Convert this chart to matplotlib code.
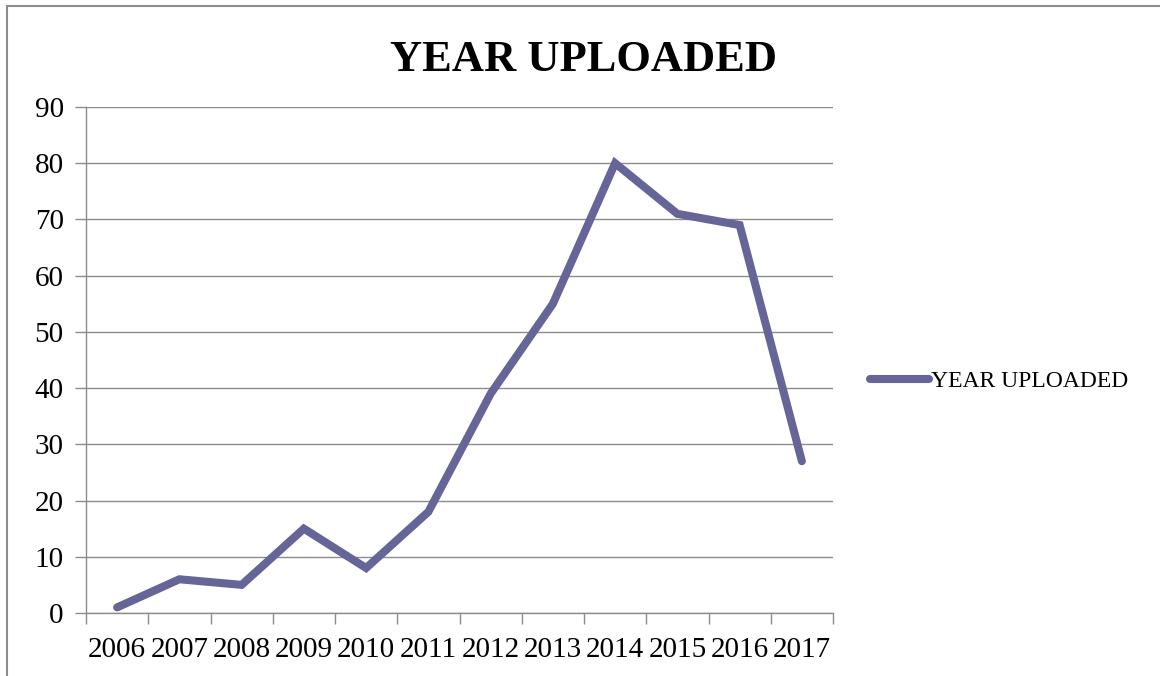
import numpy as np
import matplotlib
matplotlib.use('Agg')
import matplotlib.pyplot as plt
from matplotlib.patches import Rectangle

years = ['2006', '2007', '2008', '2009', '2010', '2011',
         '2012', '2013', '2014', '2015', '2016', '2017']
uploads = [1, 6, 5, 15, 8, 18, 39, 55, 80, 71, 69, 27]
series_name = 'YEAR UPLOADED'

plt.rcParams['font.family'] = ['Liberation Serif', 'DejaVu Serif']

W, H = 1160, 676
fig = plt.figure(figsize=(W / 100, H / 100), dpi=100)

# outer chart border (clipped at right/bottom like the reference)
fig.patches.append(Rectangle((7 / W, -0.1), 1.2, 1 - 6 / H + 0.1,
                             transform=fig.transFigure, fill=False,
                             edgecolor='#8c8c8c', lw=1.5))

ax = fig.add_axes([86 / W, 1 - 613 / H, (833 - 86) / W, (613 - 107) / H])
x = np.arange(len(years))
line, = ax.plot(x, uploads, color='#656598', lw=5.8, solid_capstyle='round',
                solid_joinstyle='miter', label=series_name, zorder=3)

ax.set_xlim(-0.5, len(years) - 0.5)
ax.set_ylim(0, 90)
ax.set_yticks(np.arange(0, 91, 10))
ax.set_xticks(x)
ax.set_xticklabels(years)
ax.set_xticks(np.arange(-0.5, len(years), 1), minor=True)
ax.tick_params(axis='x', which='major', length=0, pad=17, labelsize=21)
ax.tick_params(axis='x', which='minor', length=8, color='#8c8c8c', width=1)
ax.tick_params(axis='y', length=8, color='#8c8c8c', width=1, labelsize=21, pad=8)
ax.grid(axis='y', color='#8c8c8c', lw=1)
ax.set_axisbelow(True)
for s in ['top', 'right']:
    ax.spines[s].set_visible(False)
for s in ['left', 'bottom']:
    ax.spines[s].set_color('#8c8c8c')
    ax.spines[s].set_linewidth(1)

fig.text(584 / W, 1 - 60 / H, series_name, ha='center', va='center',
         fontsize=32, fontweight='bold')

fig.legend(handles=[line], loc='center left', bbox_to_anchor=(870 / W, 1 - 381 / H),
           frameon=False, fontsize=17, handlelength=2.5, handletextpad=0.1,
           borderpad=0, borderaxespad=0)

fig.savefig('out.png', dpi=100)
